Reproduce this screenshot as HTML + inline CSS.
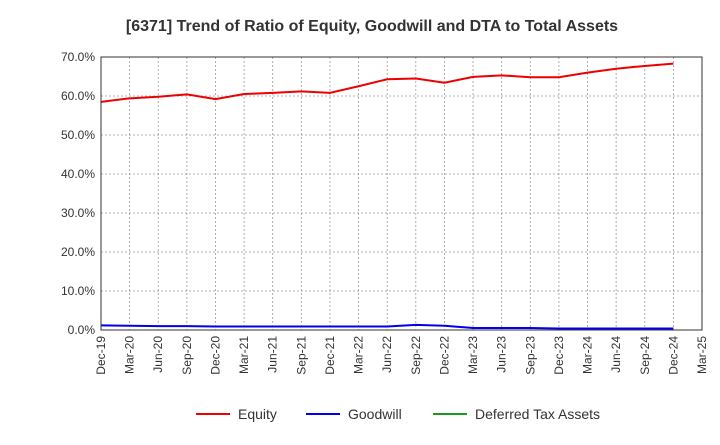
<!DOCTYPE html>
<html><head><meta charset="utf-8"><style>
body{margin:0;background:#fff;font-family:"Liberation Sans",sans-serif;}
</style></head><body>
<svg id="c" width="720" height="440" xmlns="http://www.w3.org/2000/svg">
<text x="372" y="31" text-anchor="middle" font-size="16" font-weight="bold" fill="#333">[6371]  Trend of Ratio of Equity, Goodwill and DTA to Total Assets</text>
<g id="grid"></g><g id="series"></g><g id="axes"></g>
</svg>
<script>
const xLabels=["Dec-19","Mar-20","Jun-20","Sep-20","Dec-20","Mar-21","Jun-21","Sep-21","Dec-21","Mar-22","Jun-22","Sep-22","Dec-22","Mar-23","Jun-23","Sep-23","Dec-23","Mar-24","Jun-24","Sep-24","Dec-24","Mar-25"];
const yTicks=[0,10,20,30,40,50,60,70];
const equity=[58.5,59.4,59.8,60.4,59.2,60.5,60.8,61.2,60.8,62.5,64.3,64.5,63.4,64.9,65.3,64.8,64.8,66.0,67.0,67.7,68.3];
const goodwill=[1.2,1.1,1.0,1.0,0.9,0.9,0.9,0.9,0.9,0.9,0.9,1.3,1.1,0.5,0.5,0.5,0.4,0.4,0.4,0.4,0.4];
const dta=[];
const L=101,R=702,T=57,B=330;
const sx=i=>L+i*(R-L)/(xLabels.length-1);
const sy=v=>B-v*(B-T)/70;
const NS="http://www.w3.org/2000/svg";
function mk(p,t,a){const e=document.createElementNS(NS,t);for(const k in a)e.setAttribute(k,a[k]);document.getElementById(p).appendChild(e);return e;}
yTicks.forEach(v=>{
 const g=mk('grid','line',{x1:L,x2:R,y1:sy(v),y2:sy(v),stroke:'#999','stroke-dasharray':'2,2','stroke-width':0.8});
 
 
 const t=mk('axes','text',{x:L-6,y:sy(v)+4,'text-anchor':'end','font-size':12,fill:'#333'});
 t.textContent=v.toFixed(1)+'%';
 
 
});
xLabels.forEach((s,i)=>{
 const g=mk('grid','line',{x1:sx(i),x2:sx(i),y1:T,y2:B,stroke:'#999','stroke-dasharray':'2,2','stroke-width':0.8});
 
 
 const t=mk('axes','text',{transform:`translate(${sx(i)+4},${B+6}) rotate(-90)`,'text-anchor':'end','font-size':12,fill:'#333'});
 t.textContent=s;
 
 
});
const fr=mk('axes','rect',{x:L,y:T,width:R-L,height:B-T,fill:'none',stroke:'#333','stroke-width':1});


function line(d,c,n){if(!d.length)return;const p=mk('series','polyline',{points:d.map((v,i)=>sx(i)+','+sy(v)).join(' '),fill:'none',stroke:c,'stroke-width':2});
 
 }
line(dta,'#1a9a1a','dta-line');line(goodwill,'#0000ee','goodwill-line');line(equity,'#ee0000','equity-line');
const leg=[["Equity","#ee0000",196],["Goodwill","#0000ee",306],["Deferred Tax Assets","#1a9a1a",433]];
leg.forEach(([n,c,x])=>{
 const l=mk('axes','line',{x1:x,x2:x+34,y1:414,y2:414,stroke:c,'stroke-width':2});
 
 
 const t=mk('axes','text',{x:x+42,y:419,'font-size':14,fill:'#333'});
 t.textContent=n;
 
 
});
</script>
</body></html>
